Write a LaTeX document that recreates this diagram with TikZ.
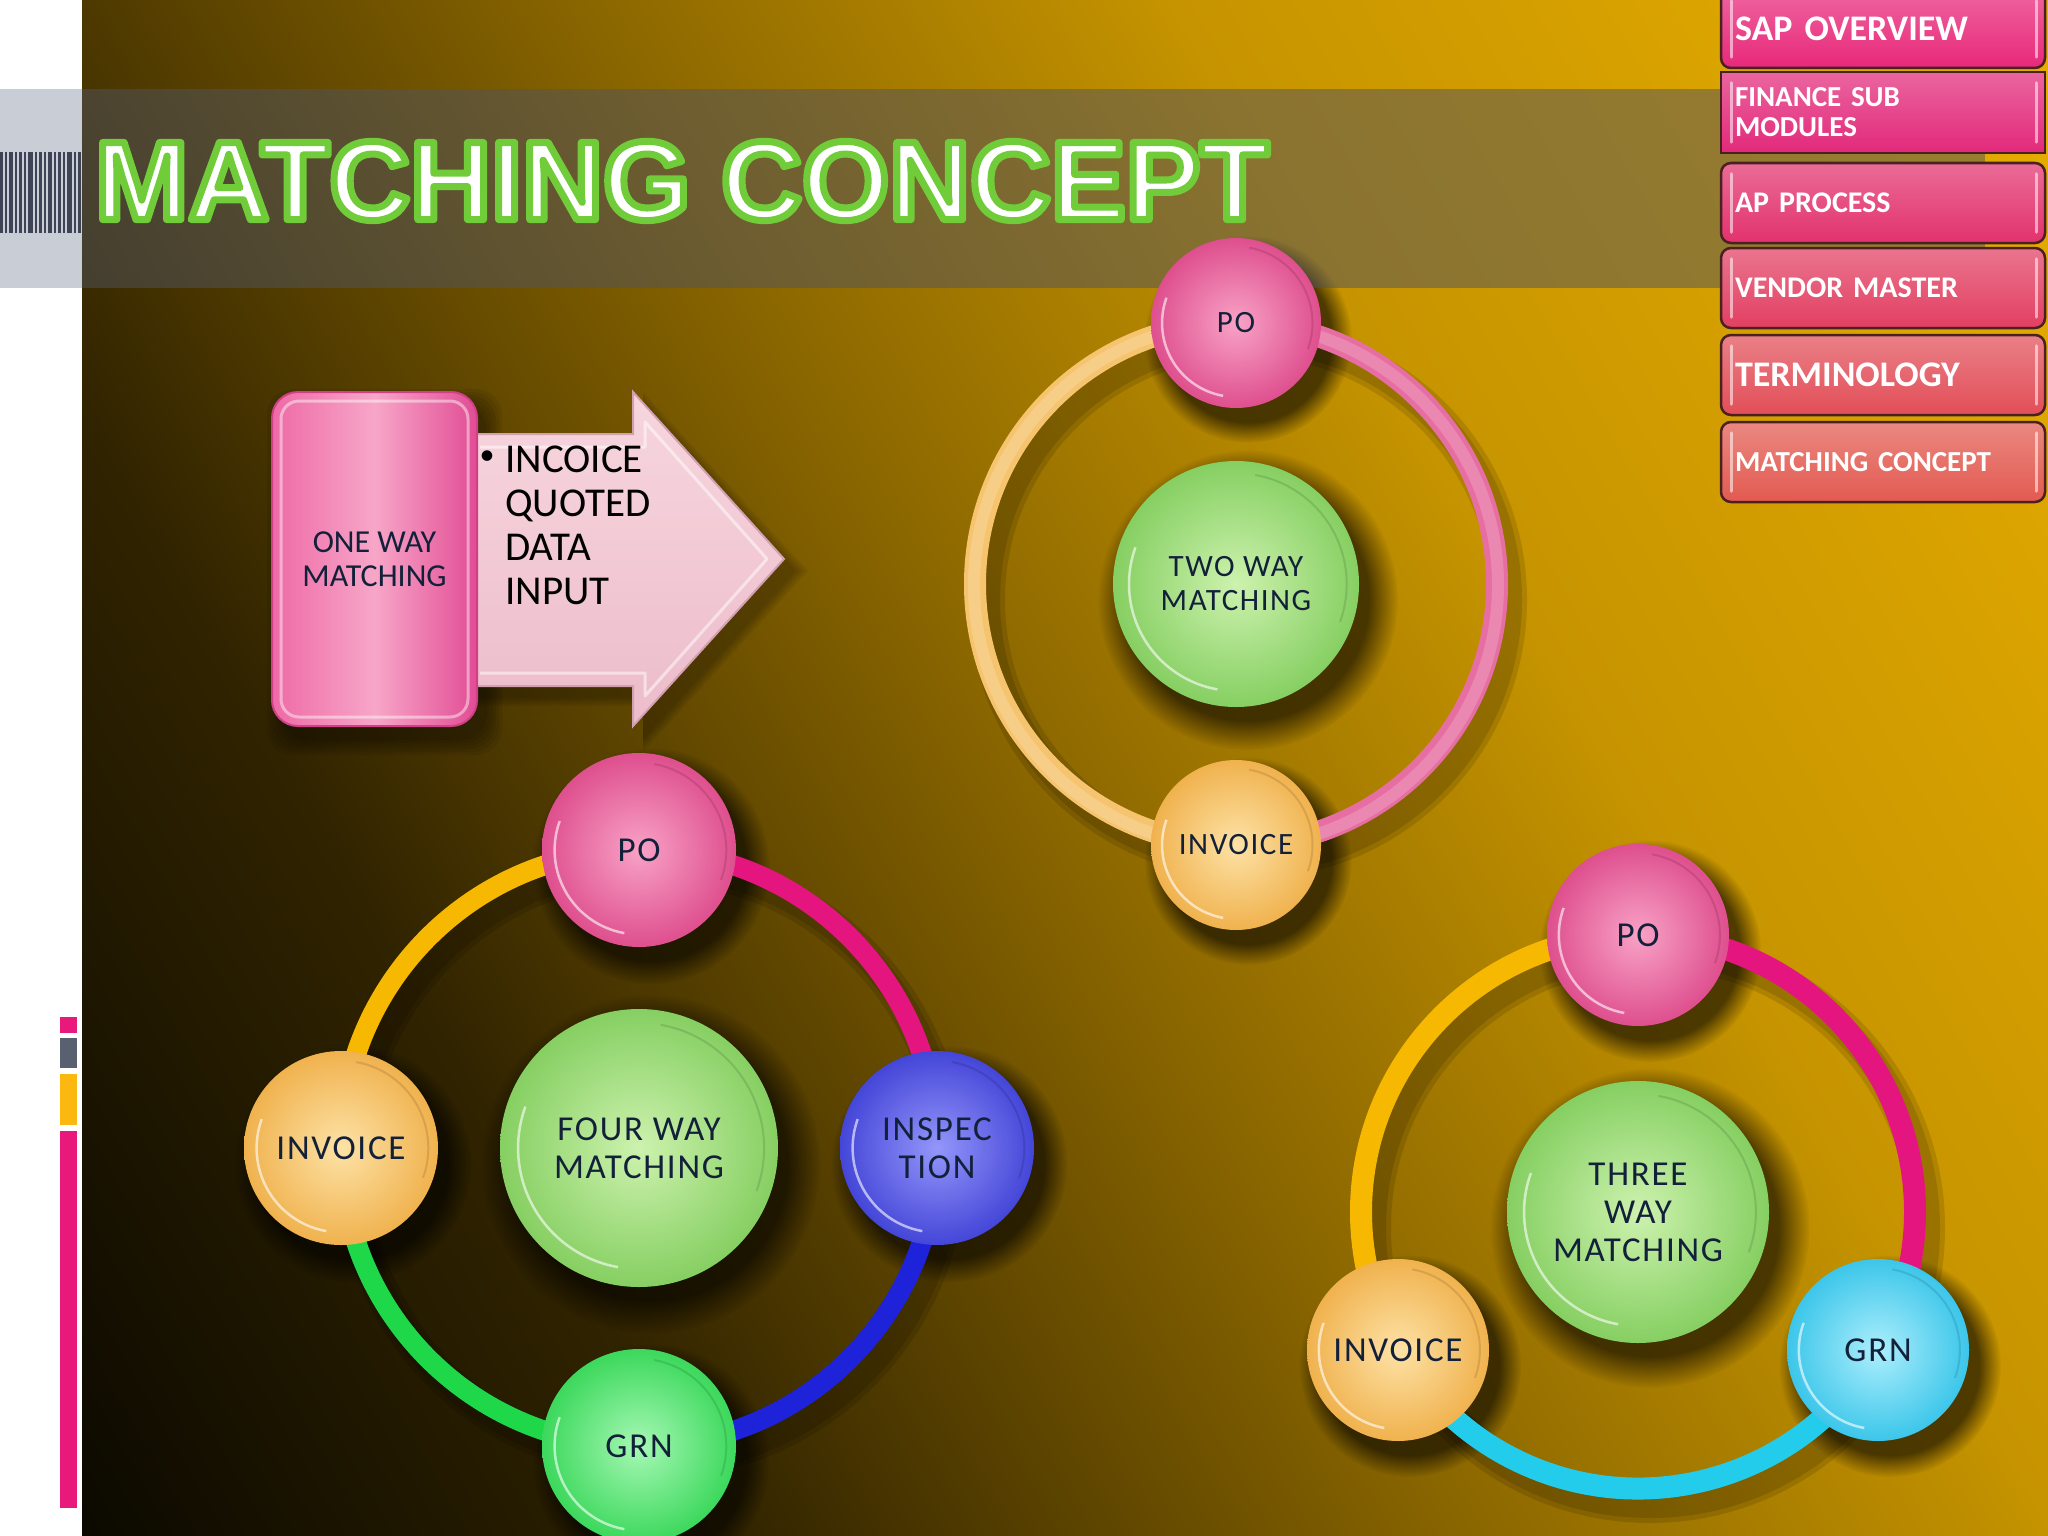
\documentclass[tikz,border=0pt]{standalone}
\usepackage{fontspec}
\setmainfont{Carlito}
\newfontfamily\titlefont{Liberation Sans}
\usetikzlibrary{fadings,calc}

\definecolor{bgA}{HTML}{060500}
\definecolor{bgB}{HTML}{302300}
\definecolor{bgC}{HTML}{8A6600}
\definecolor{bgD}{HTML}{C69400}
\definecolor{bgE}{HTML}{E8AE00}
\pgfdeclarehorizontalshading{bgshade}{100bp}{color(0bp)=(bgA); color(25bp)=(bgA); color(37.5bp)=(bgB); color(50bp)=(bgC); color(60bp)=(bgD); color(75bp)=(bgE); color(100bp)=(bgE)}

\definecolor{navy}{HTML}{13203A}
\definecolor{bandc}{HTML}{505460}
\definecolor{bandL}{HTML}{C9CDD6}
\definecolor{barc}{HTML}{3E4456}
\definecolor{lpink}{HTML}{E8197A}
\definecolor{lgray}{HTML}{596070}
\definecolor{lyell}{HTML}{FBB810}

\definecolor{pinkIn}{HTML}{F8A2C6}
\definecolor{pinkOut}{HTML}{DE4F8E}
\definecolor{orgIn}{HTML}{FDE2A6}
\definecolor{orgOut}{HTML}{F0B24E}
\definecolor{bluIn}{HTML}{9496FA}
\definecolor{bluOut}{HTML}{4446D8}
\definecolor{grnIn}{HTML}{A6F8B4}
\definecolor{grnOut}{HTML}{3CD85C}
\definecolor{cyaIn}{HTML}{ACEEFC}
\definecolor{cyaOut}{HTML}{3CC6EA}
\definecolor{cenIn}{HTML}{CDF2AE}
\definecolor{cenOut}{HTML}{86CF62}

\definecolor{ringY}{HTML}{F6B800}
\definecolor{ringM}{HTML}{E4157E}
\definecolor{ringB}{HTML}{1E22D8}
\definecolor{ringG}{HTML}{1ED84A}
\definecolor{ringC}{HTML}{22CCEA}
\definecolor{ringTO}{HTML}{F6C46E}
\definecolor{ringTP}{HTML}{E66EA2}

\definecolor{mbA}{HTML}{E8287A}
\definecolor{mbB}{HTML}{E2297A}
\definecolor{mbC}{HTML}{E2326E}
\definecolor{mbD}{HTML}{E23F62}
\definecolor{mbE}{HTML}{E24E58}
\definecolor{mbF}{HTML}{E25A50}
\definecolor{btnEdge}{HTML}{4A2020}

\definecolor{arrTop}{HTML}{F7D6DE}
\definecolor{arrBot}{HTML}{ECBCCA}
\definecolor{arrEdge}{HTML}{D3A0B2}
\definecolor{boxL}{HTML}{EE6AA6}
\definecolor{boxM}{HTML}{F7A6C8}
\definecolor{boxR}{HTML}{E24C94}
\definecolor{boxEdge}{HTML}{D04088}

\pgfdeclarelayer{back0}
\pgfdeclarelayer{back}
\pgfdeclarelayer{rings}
\pgfsetlayers{back0,back,rings,main}

\newcommand\outl[1]{\special{pdf:literal direct 2 Tr 7 w 1 j 0.44 0.80 0.22 RG}#1\special{pdf:literal direct 0 Tr}}
\newcommand\fA{\fontsize{35}{38}\selectfont\addfontfeatures{LetterSpace=5}}
\newcommand\fB{\fontsize{31}{34}\selectfont\addfontfeatures{LetterSpace=5}}

% name, x, y, r, inner, outer, font, text
\newcommand\mkball[8]{%
  \begin{pgfonlayer}{back}
    \fill[black,opacity=.6,path fading=circle with fuzzy edge 20 percent] (#2+12,#3+16) circle ({#4*1.22});
  \end{pgfonlayer}
  \node[ball,minimum size={2*#4pt},inner color=#5,outer color=#6,font=#7] (#1) at (#2,#3) {#8};
  \draw[white,opacity=.6,line width=2.5pt] ($(#1.center)+(100:{0.87*#4})$) arc[start angle=100,end angle=200,radius={0.87*#4}];
  \draw[#6!70!black,opacity=.35,line width=2pt] ($(#1.center)+(-80:{0.9*#4})$) arc[start angle=-80,end angle=20,radius={0.9*#4}];
}

\begin{document}
\begin{tikzpicture}[x=1pt,y=-1pt,
  ball/.style={circle,inner sep=0pt,align=center,text=navy},
  ring/.style={line width=#1,line cap=butt},
  ring/.default=22pt,
  menubtn/.style={draw=btnEdge,line width=2.5pt,rounded corners=10pt,minimum width=324pt,text width=296pt,inner xsep=14pt,inner ysep=0pt,align=left,text=white},
  onebox/.style={rounded corners=26pt,minimum width=205pt,minimum height=334pt,left color=boxL,right color=boxR,middle color=boxM,draw=boxEdge,line width=2pt,align=center,text=navy,font=\fontsize{32}{34}\selectfont},
  bultext/.style={anchor=base west,text=black,inner sep=0pt,font=\fontsize{41}{44}\selectfont}
]
\useasboundingbox (0,0) rectangle (2048,1536);

% ---------- background ----------
\begin{pgfonlayer}{back0}
  \clip (0,0) rectangle (2048,1536);
  \begin{scope}[transform canvas={rotate around={30:(1024,768)}}]
    \shade[shading=bgshade] (-256,-432) rectangle (2304,1968);
  \end{scope}
\end{pgfonlayer}

% white strip and title band
\fill[white] (0,0) rectangle (82,1536);
\fill[bandc,opacity=.5] (82,89) rectangle (1985,288);
\fill[bandL] (0,89) rectangle (82,288);
\foreach \x/\w in {0/3,5/2,9/4,15/2,19/3,24/2,28/5,35/2,39/3,44/2,48/4,54/2,58/3,63/2,67/5,74/2,78/3}
  \fill[barc] (\x,152) rectangle (\x+\w,233);

% left colour bars
\fill[lpink] (60,1017) rectangle (77,1033);
\fill[lgray] (60,1038) rectangle (77,1068);
\fill[lyell] (60,1074) rectangle (77,1125);
\fill[lpink] (60,1131) rectangle (77,1508);

% title
\node[font=\titlefont\bfseries\fontsize{112}{120}\selectfont,text=white,inner sep=0pt] (title) at (682,181) {\outl{MATCHING CONCEPT}};

% ---------- menu ----------
\node[menubtn,top color=mbA!72!white,bottom color=mbA,minimum height=78pt,font=\bfseries\fontsize{36}{36}\selectfont] (m1) at (1883,29) {SAP OVERVIEW};
\node[menubtn,rounded corners=0pt,top color=mbB!72!white,bottom color=mbB,minimum height=81pt,font=\bfseries\fontsize{29}{30}\selectfont] (m2) at (1883,112.5) {FINANCE SUB\\MODULES};
\node[menubtn,top color=mbC!72!white,bottom color=mbC,minimum height=80pt,font=\bfseries\fontsize{30}{32}\selectfont] (m3) at (1883,203) {AP PROCESS};
\node[menubtn,top color=mbD!72!white,bottom color=mbD,minimum height=80pt,font=\bfseries\fontsize{30}{32}\selectfont] (m4) at (1883,288) {VENDOR MASTER};
\node[menubtn,top color=mbE!72!white,bottom color=mbE,minimum height=80pt,font=\bfseries\fontsize{36}{38}\selectfont] (m5) at (1883,375) {TERMINOLOGY};
\node[menubtn,top color=mbF!72!white,bottom color=mbF,minimum height=80pt,font=\bfseries\fontsize{29}{30}\selectfont] (m6) at (1883,462) {MATCHING CONCEPT};
\foreach \i in {1,...,6}{
  \draw[white,opacity=.55,line width=3pt,line cap=round] ([xshift=12pt,yshift=-12pt]m\i.north west) -- ([xshift=12pt,yshift=12pt]m\i.south west);
  \draw[white,opacity=.55,line width=3pt,line cap=round] ([xshift=-10pt,yshift=-12pt]m\i.north east) -- ([xshift=-10pt,yshift=12pt]m\i.south east);
}

% ---------- one way matching ----------
\begin{pgfonlayer}{back}
  \foreach \i in {0,...,5}
    \fill[black,opacity=.07,rounded corners=26pt] (282-\i*3,404-\i*3) rectangle (487+\i*3,740+\i*3);
  \foreach \i in {0,...,4}
    \fill[black,opacity=.06] (470,446-\i*2) -- (643,446-\i*2) -- (643,404-\i*3) -- (796+\i*3,571) -- (643,740+\i*3) -- (643,698+\i*2) -- (470,698+\i*2) -- cycle;
\end{pgfonlayer}
\filldraw[top color=arrTop,bottom color=arrBot,draw=arrEdge,line width=2pt] (460,434) -- (633,434) -- (633,392) -- (784,559) -- (633,726) -- (633,686) -- (460,686) -- cycle;
\draw[white,opacity=.5,line width=3pt,line join=round] (480,447) -- (645,447) -- (645,422) -- (767,559) -- (645,696) -- (645,673) -- (480,673);
\node[onebox] (oneway) at (374.5,559) {ONE WAY\\MATCHING};
\draw[white,opacity=.45,line width=3pt,rounded corners=18pt] ([shift={(10pt,-10pt)}]oneway.north west) rectangle ([shift={(-10pt,10pt)}]oneway.south east);
\node[font=\fontsize{30}{30}\selectfont,text=black,inner sep=0pt] (bul) at (487,458) {\textbullet};
\node[bultext] (l1) at (505,472) {INCOICE};
\node[bultext] (l2) at (505,516) {QUOTED};
\node[bultext] (l3) at (505,560) {DATA};
\node[bultext] (l4) at (505,604) {INPUT};

% ---------- two way matching ----------
\mkball{c2}{1236}{584}{123}{cenIn}{cenOut}{\fB}{TWO WAY\\MATCHING}
\mkball{p2}{1236}{323}{85}{pinkIn}{pinkOut}{\fB}{PO}
\mkball{i2}{1236}{845}{85}{orgIn}{orgOut}{\fB}{INVOICE}

% ---------- four way matching ----------
\mkball{c4}{639}{1148}{139}{cenIn}{cenOut}{\fA}{FOUR WAY\\MATCHING}
\mkball{p4}{639}{850}{97}{pinkIn}{pinkOut}{\fA}{PO}
\mkball{i4}{341}{1148}{97}{orgIn}{orgOut}{\fA}{INVOICE}
\mkball{s4}{937}{1148}{97}{bluIn}{bluOut}{\fA}{INSPEC\\TION}
\mkball{g4}{639}{1446}{97}{grnIn}{grnOut}{\fA}{GRN}

% ---------- three way matching ----------
\mkball{c3}{1638}{1212}{131}{cenIn}{cenOut}{\fA}{THREE\\WAY\\MATCHING}
\mkball{p3}{1638}{935}{91}{pinkIn}{pinkOut}{\fA}{PO}
\mkball{i3}{1398}{1350}{91}{orgIn}{orgOut}{\fA}{INVOICE}
\mkball{g3}{1878}{1350}{91}{cyaIn}{cyaOut}{\fA}{GRN}

% ---------- ring shadows ----------
\begin{pgfonlayer}{back}
  \draw[black,opacity=.12,line width=36pt] (1248,600) circle (261);
  \draw[black,opacity=.12,line width=26pt] (1248,600) circle (261);
  \draw[black,opacity=.12,line width=34pt] (651,1164) circle (298);
  \draw[black,opacity=.12,line width=24pt] (651,1164) circle (298);
  \draw[black,opacity=.12,line width=36pt] (1650,1228) circle (277);
  \draw[black,opacity=.12,line width=26pt] (1650,1228) circle (277);
\end{pgfonlayer}

% ---------- rings (connectors) ----------
\begin{pgfonlayer}{rings}
  % two way
  \draw[ring,draw=ringTO] (p2.center) arc[start angle=-90,end angle=-270,radius=261];
  \draw[ring,draw=ringTP] (p2.center) arc[start angle=-90,end angle=90,radius=261];
  \draw[ring=12pt,draw=white,opacity=.18] (p2.center) arc[start angle=-90,end angle=270,radius=262];
  % four way
  \draw[ring=20pt,draw=ringY] (p4.center) arc[start angle=-90,end angle=-180,radius=298];
  \draw[ring=20pt,draw=ringM] (p4.center) arc[start angle=-90,end angle=0,radius=298];
  \draw[ring=20pt,draw=ringB] (s4.center) arc[start angle=0,end angle=90,radius=298];
  \draw[ring=20pt,draw=ringG] (g4.center) arc[start angle=90,end angle=180,radius=298];
  % three way
  \draw[ring,draw=ringY] (p3.center) arc[start angle=-90,end angle=-210,radius=277];
  \draw[ring,draw=ringM] (p3.center) arc[start angle=-90,end angle=30,radius=277];
  \draw[ring,draw=ringC] (g3.center) arc[start angle=30,end angle=150,radius=277];
\end{pgfonlayer}
\end{tikzpicture}
\end{document}
